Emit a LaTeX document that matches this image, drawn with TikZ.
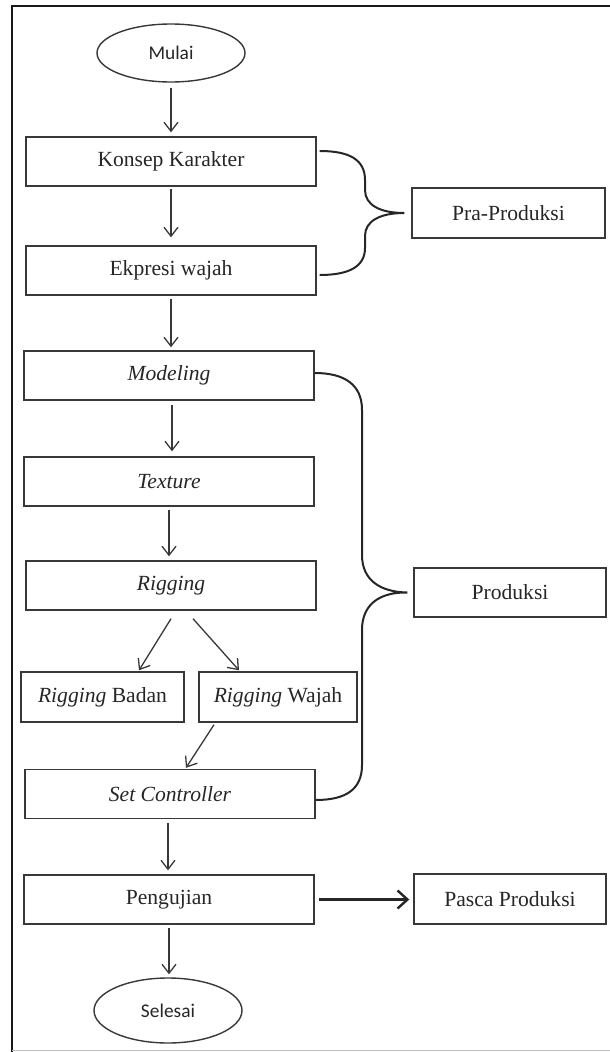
\documentclass[tikz,border=0pt]{standalone}
\usepackage{fontspec}
\setmainfont{Liberation Serif}
\newfontfamily\calib{Carlito}
\usetikzlibrary{arrows.meta,shapes.geometric,calc}
\begin{document}
\begin{tikzpicture}[x=1pt,y=-1pt,
  box/.style={draw=black!78,line width=1.4pt,minimum width=290pt,minimum height=49pt,inner sep=0pt,
    font=\fontsize{21.6}{26}\selectfont,text=black!85},
  term/.style={ellipse,draw=black!78,line width=1.4pt,minimum width=148pt,minimum height=58pt,inner sep=0pt,
    font=\calib\fontsize{19.4}{23}\selectfont,text=black!85},
  flow/.style={draw=black!78,line width=1.3pt,-{Straight Barb[length=9pt,width=14pt]}},
  bigflow/.style={draw=black!85,line width=2.4pt,-{Straight Barb[length=10pt,width=18pt]}},
  brace/.style={draw=black!85,line width=2pt},
  frame/.style={draw=black!90,line width=2.4pt}]
\useasboundingbox (0,0) rectangle (610,1052);

% frame
\draw[frame] (12,1052) -- (12,6) -- (610,6);
\draw[draw=black!25,line width=1pt] (12,1050) -- (610,1050);

% nodes
\node[term] (mulai) at (171,53) {Mulai};
\node[box] (konsep) at (171,161.5) {Konsep Karakter};
\node[box] (ekpresi) at (171,270.5) {Ekpresi wajah};
\node[box] (modeling) at (169,375.5) {\textit{Modeling}};
\node[box] (texture) at (169,481.5) {\textit{Texture}};
\node[box] (rigging) at (171,585.5) {\textit{Rigging}};
\node[box,minimum width=163pt,minimum height=50pt] (badan) at (102.5,697) {\textit{Rigging} Badan};
\node[box,minimum width=158pt,minimum height=50pt] (wajah) at (278,697) {\textit{Rigging} Wajah};
\node[box] (setc) at (170,794) {\textit{Set Controller}};
\node[box] (penguj) at (169,899.5) {Pengujian};
\node[term,minimum height=65pt] (selesai) at (168,1010.5) {Selesai};
\node[box,minimum width=193pt,minimum height=50pt] (pra) at (508.5,213) {Pra-Produksi};
\node[box,minimum width=192pt,minimum height=49pt] (prod) at (510,592.5) {Produksi};
\node[box,minimum width=192pt,minimum height=50pt] (pasca) at (510,899) {Pasca Produksi};

% flow arrows
\draw[flow,shorten <=5pt,shorten >=4pt] (mulai.south) -- (mulai.south |- konsep.north);
\draw[flow,shorten <=2pt,shorten >=8pt] (konsep.south) -- (konsep.south |- ekpresi.north);
\draw[flow,shorten <=3pt,shorten >=3pt] (ekpresi.south) -- (ekpresi.south |- modeling.north);
\draw[flow,shorten <=4pt,shorten >=5pt] ([xshift=3pt]modeling.south) -- ([xshift=3pt]modeling.south |- texture.north);
\draw[flow,shorten <=3pt,shorten >=4pt] (texture.south) -- (texture.south |- rigging.north);
\draw[flow] ([yshift=-8pt]rigging.south) -- ([xshift=36.5pt,yshift=1pt]badan.north);
\draw[flow] ([xshift=22pt,yshift=-8pt]rigging.south) -- ([xshift=-39pt,yshift=1pt]wajah.north);
\draw[flow] ([xshift=-64pt,yshift=-2pt]wajah.south) -- ([xshift=16pt,yshift=1pt]setc.north);
\draw[flow,shorten <=4pt,shorten >=4pt] ([xshift=-2pt]setc.south) -- ([xshift=-2pt]setc.south |- penguj.north);
\draw[flow,shorten <=3pt,shorten >=3pt] (penguj.south) -- (penguj.south |- selesai.north);
\draw[bigflow,shorten <=4pt,shorten >=4pt] (penguj.east) -- (pasca.west |- penguj.east);

% braces
\draw[brace] ([xshift=3pt,yshift=10.5pt]konsep.east) .. controls (350,151) and (365,160) .. (365,180)
  -- (365,190) .. controls (365,205) and (380,213) .. ([xshift=-7pt]pra.west)
  .. controls (380,213) and (365,221) .. (365,236)
  -- (365,248) .. controls (365,266) and (350,275) .. ([xshift=3pt,yshift=-4.5pt]ekpresi.east);
\draw[brace] ([yshift=2.5pt]modeling.east) .. controls (345,373) and (362,385) .. (362,410)
  -- (362,555) .. controls (362,580) and (380,592) .. ([xshift=-6pt]prod.west)
  .. controls (380,592) and (362,604) .. (362,630)
  -- (362,765) .. controls (362,790) and (345,800) .. ([yshift=-6pt]setc.east);
\end{tikzpicture}
\end{document}
